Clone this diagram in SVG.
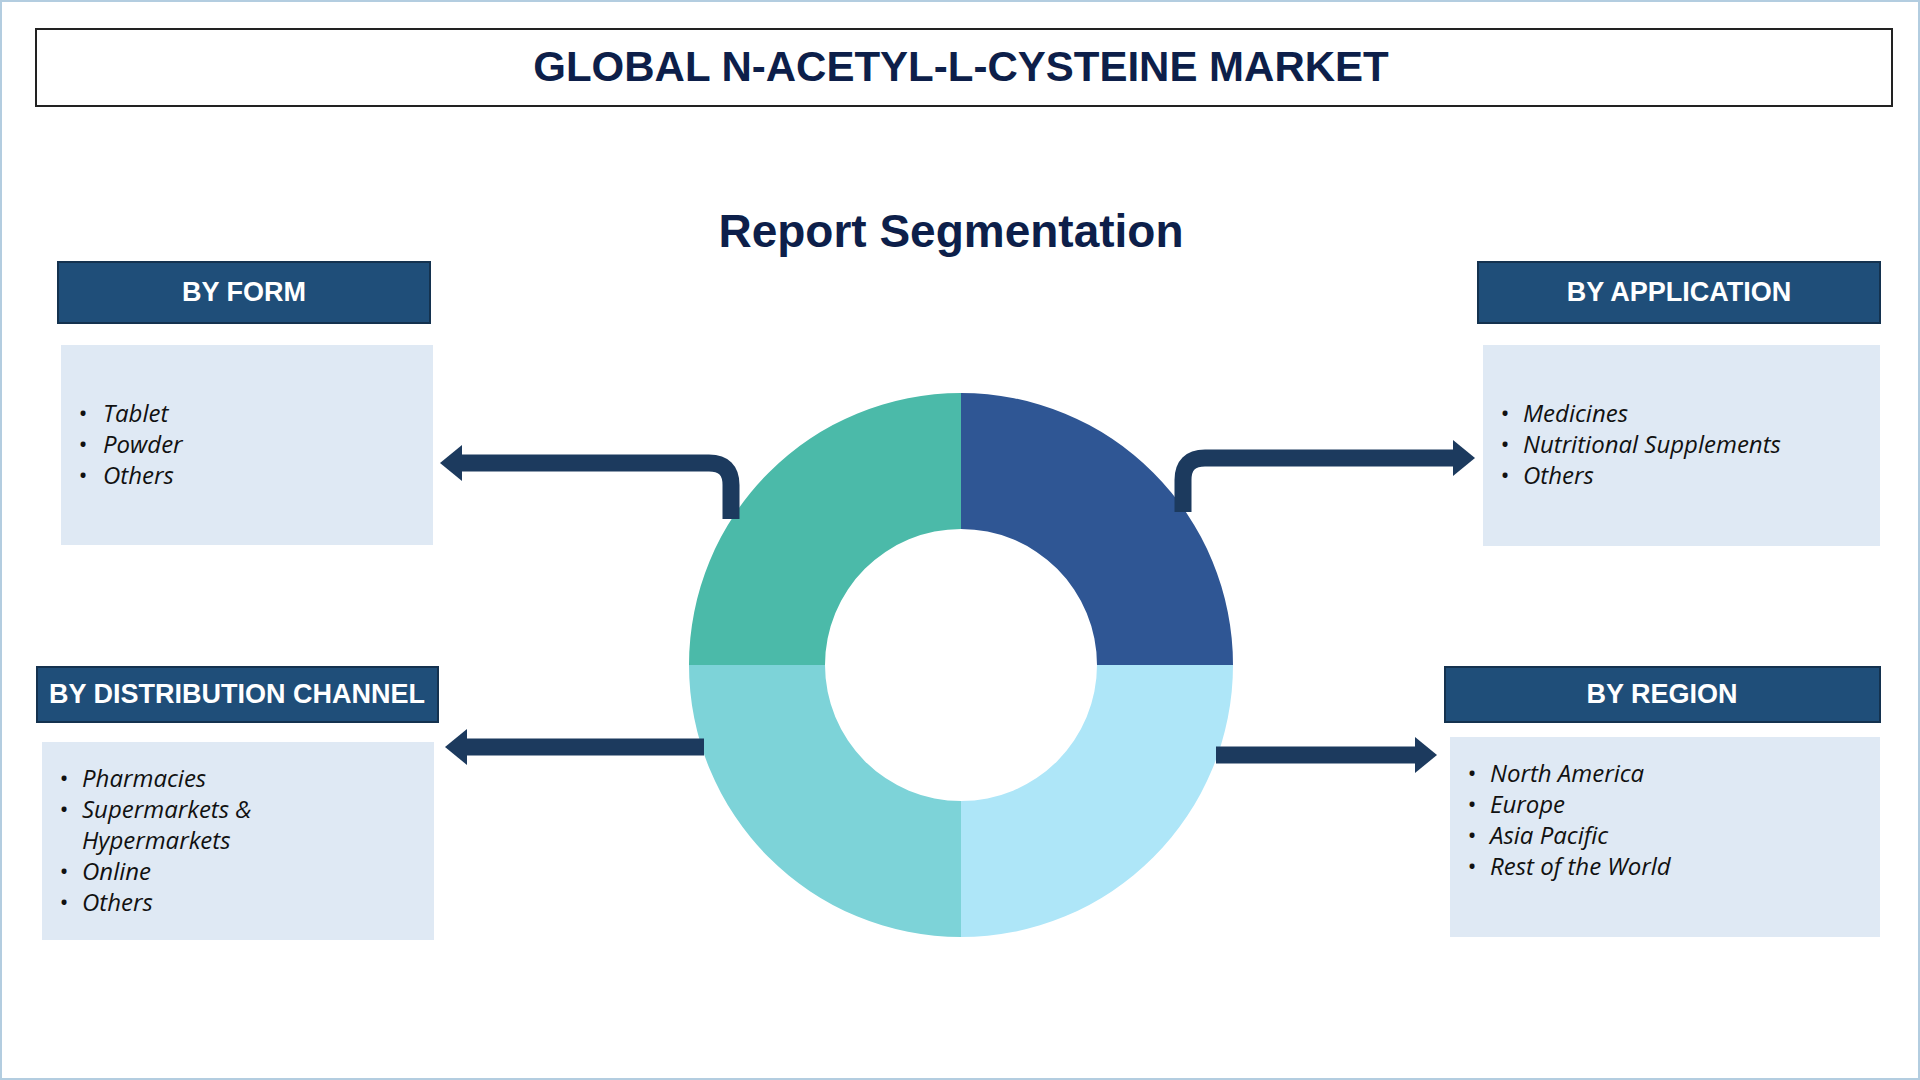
<svg xmlns="http://www.w3.org/2000/svg" width="1920" height="1080" viewBox="0 0 1920 1080">
<style>
.hdr{fill:#1f4e79;stroke:#14324f;stroke-width:2}
.ht{font-family:"Liberation Sans",Arial,sans-serif;font-weight:bold;font-size:27px;fill:#fff;text-anchor:middle}
.box{fill:#dfe9f4}
.it{font-family:"Open Sans","Liberation Sans",sans-serif;font-style:italic;font-size:24px;fill:#111}
.con{fill:none;stroke:#1c3a5e;stroke-width:17}
</style>
<defs>
<marker id="ah" markerUnits="userSpaceOnUse" markerWidth="24" markerHeight="36" refX="4" refY="18" orient="auto">
<path d="M0,0 L22,18 L0,36 Z" fill="#1c3a5e"/>
</marker>
</defs>
<rect x="1" y="1" width="1918" height="1078" fill="#fff" stroke="#b3cde0" stroke-width="2"/>
<g id="title">
<rect x="36" y="29" width="1856" height="77" fill="#fff" stroke="#222" stroke-width="2"/>
<text x="961" y="81" font-family="Liberation Sans,Arial,sans-serif" font-weight="bold" font-size="42" fill="#0d1f4a" text-anchor="middle">GLOBAL N-ACETYL-L-CYSTEINE MARKET</text>
</g>
<g id="subtitle"><text x="951" y="247" font-family="Liberation Sans,Arial,sans-serif" font-weight="bold" font-size="46" fill="#0d1f4a" text-anchor="middle">Report Segmentation</text></g>
<g id="donut">
<path d="M961,393 A272,272 0 0 1 1233,665 H1097 A136,136 0 0 0 961,529 Z" fill="#2f5694"/>
<path d="M1233,665 A272,272 0 0 1 961,937 V801 A136,136 0 0 0 1097,665 Z" fill="#aee6f8"/>
<path d="M961,937 A272,272 0 0 1 689,665 H825 A136,136 0 0 0 961,801 Z" fill="#7dd3d8"/>
<path d="M689,665 A272,272 0 0 1 961,393 V529 A136,136 0 0 0 825,665 Z" fill="#4bbaa9"/>
</g>
<g id="connectors">
<path class="con" d="M731,519 V485 Q731,463 709,463 H458" marker-end="url(#ah)"/>
<path class="con" d="M1183,512 V480 Q1183,458 1205,458 H1457" marker-end="url(#ah)"/>
<path class="con" d="M704,747 H463" marker-end="url(#ah)"/>
<path class="con" d="M1216,755 H1419" marker-end="url(#ah)"/>
</g>
<g id="form">
<rect class="hdr" x="58" y="262" width="372" height="61"/>
<text class="ht" x="244" y="301">BY FORM</text>
<rect class="box" x="61" y="345" width="372" height="200"/>
<text class="it"><tspan x="78" y="422">•</tspan><tspan x="103" y="422">Tablet</tspan><tspan x="78" y="453">•</tspan><tspan x="103" y="453">Powder</tspan><tspan x="78" y="484">•</tspan><tspan x="103" y="484">Others</tspan></text>
</g>
<g id="application">
<rect class="hdr" x="1478" y="262" width="402" height="61"/>
<text class="ht" x="1679" y="301">BY APPLICATION</text>
<rect class="box" x="1483" y="345" width="397" height="201"/>
<text class="it"><tspan x="1500" y="422">•</tspan><tspan x="1523" y="422">Medicines</tspan><tspan x="1500" y="453">•</tspan><tspan x="1523" y="453">Nutritional Supplements</tspan><tspan x="1500" y="484">•</tspan><tspan x="1523" y="484">Others</tspan></text>
</g>
<g id="distribution">
<rect class="hdr" x="37" y="667" width="401" height="55"/>
<text class="ht" x="237" y="703" font-size="25">BY DISTRIBUTION CHANNEL</text>
<rect class="box" x="42" y="742" width="392" height="198"/>
<text class="it"><tspan x="59" y="787">•</tspan><tspan x="82" y="787">Pharmacies</tspan><tspan x="59" y="818">•</tspan><tspan x="82" y="818">Supermarkets &amp;</tspan><tspan x="82" y="849">Hypermarkets</tspan><tspan x="59" y="880">•</tspan><tspan x="82" y="880">Online</tspan><tspan x="59" y="911">•</tspan><tspan x="82" y="911">Others</tspan></text>
</g>
<g id="region">
<rect class="hdr" x="1445" y="667" width="435" height="55"/>
<text class="ht" x="1662" y="703">BY REGION</text>
<rect class="box" x="1450" y="737" width="430" height="200"/>
<text class="it"><tspan x="1467" y="782">•</tspan><tspan x="1490" y="782">North America</tspan><tspan x="1467" y="813">•</tspan><tspan x="1490" y="813">Europe</tspan><tspan x="1467" y="844">•</tspan><tspan x="1490" y="844">Asia Pacific</tspan><tspan x="1467" y="875">•</tspan><tspan x="1490" y="875">Rest of the World</tspan></text>
</g>
</svg>
